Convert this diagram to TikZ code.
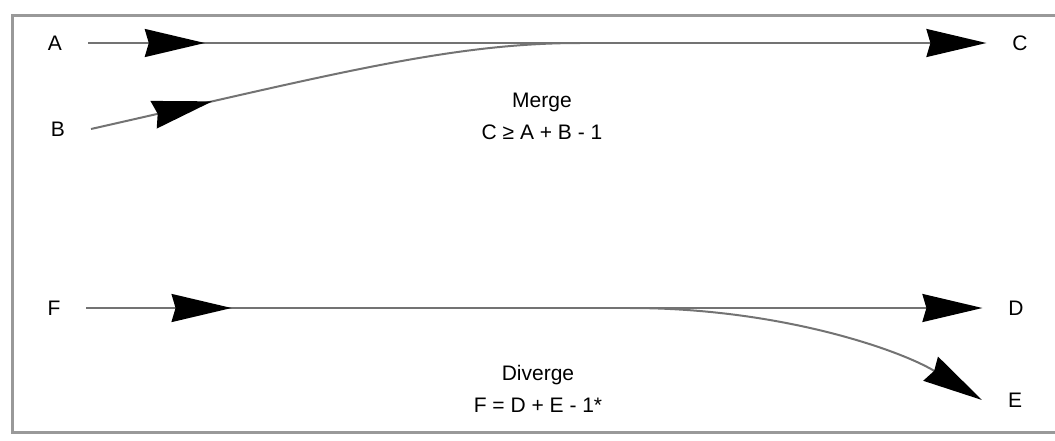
\documentclass[tikz,border=0pt]{standalone}
\usepackage{fontspec}
\setmainfont{Liberation Sans}
\usetikzlibrary{arrows.meta,decorations.markings}

\tikzset{
    buchstabe/.style={inner sep=0pt, outer sep=13pt, font=\fontsize{10.5}{16}\selectfont},
    beschriftung/.style={inner sep=0pt, align=center, font=\fontsize{10.5}{16}\selectfont},
    spitze/.tip={Stealth[length=30pt, width=14pt, inset=2pt, black]},
    linie/.style={draw=black!55, line width=1pt},
    rahmen/.style={draw=black!40, line width=1.5pt},
    mitte/.style={postaction={decorate, decoration={markings, mark=at position #1 with {\arrow{spitze}}}}}
}

\begin{document}
\begin{tikzpicture}[x=0.5pt, y=-0.5pt]
    \useasboundingbox (0,0) rectangle (1055,440);
    \draw[rahmen] (1055,15) -- (12,15) -- (12,432) -- (1055,432);
    \path node[buchstabe] (A) at (55,43) {A}
        node[buchstabe] (B) at (58,129) {B}
        node[buchstabe] (C) at (1020,43) {C}
        node[buchstabe] (F) at (54,308) {F}
        node[buchstabe] (D) at (1016,308) {D}
        node[buchstabe] (E) at (1015,400) {E}
        coordinate (zusammen) at (580,43)
        coordinate (teilung) at (630,308)
        node[beschriftung] (merge) at (542,116) {Merge\\C ≥ A + B - 1}
        node[beschriftung] (diverge) at (538,389) {Diverge\\F = D + E - 1*};
    % zusammenfuehren
    \draw[linie, mitte=0.25] (B.east) .. controls (330,75) and (450,43) .. (zusammen);
    \draw[linie, mitte=0.13, -spitze] (A) -- (C);
    % aufteilen
    \draw[linie, mitte=0.162, -spitze] (F) -- (D);
    \draw[linie, -spitze] (teilung) .. controls (780,308) and (900,350) .. (E.west);
\end{tikzpicture}
\end{document}
